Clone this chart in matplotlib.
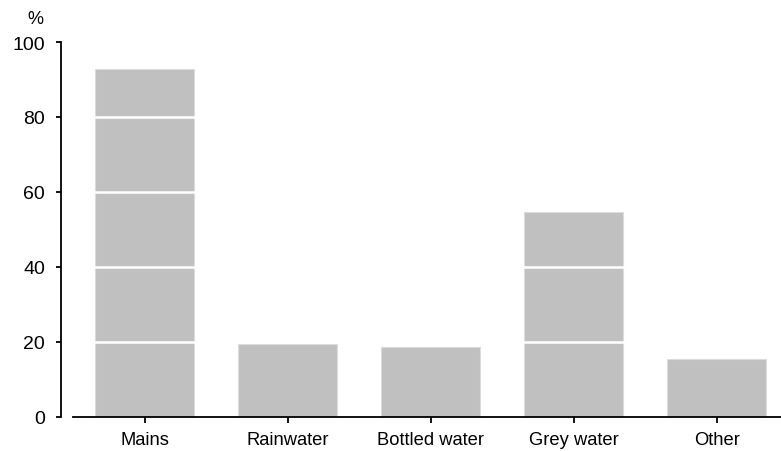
import matplotlib.pyplot as plt

categories = ['Mains', 'Rainwater', 'Bottled water', 'Grey water', 'Other']
values = [92.9, 19.4, 18.8, 54.6, 15.6]
yticks = [0, 20, 40, 60, 80, 100]

plt.rcParams['font.family'] = ['Liberation Sans', 'DejaVu Sans']

fig = plt.figure(figsize=(7.81, 4.52), dpi=100)
ax = fig.add_axes([73 / 781, 34 / 452, 708 / 781, 375 / 452])

x = range(len(categories))
ax.bar(x, values, width=0.69, color='#c0c0c0', edgecolor='#dcdcdc', linewidth=0.8, zorder=2)

# white gridlines only show up across the bars
for t in yticks[1:-1]:
    ax.axhline(t, color='white', linewidth=1.8, zorder=3)

ax.set_xlim(-0.5, 4.45)
ax.set_ylim(0, 100)
ax.set_yticks(yticks)
ax.set_xticks(list(x))
ax.set_xticklabels(categories)

for s in ['top', 'right']:
    ax.spines[s].set_visible(False)
ax.spines['left'].set_position(('outward', 8.6))
ax.spines['left'].set_linewidth(1.3)
ax.spines['bottom'].set_linewidth(1.3)

ax.tick_params(axis='y', length=3.5, width=1.3, pad=8, labelsize=14)
ax.tick_params(axis='x', length=4, width=1.3, pad=6, labelsize=13.2)

fig.text(35 / 781, 1 - 20 / 452, '%', fontsize=13, ha='center', va='center')

fig.savefig('out.png', dpi=100)
